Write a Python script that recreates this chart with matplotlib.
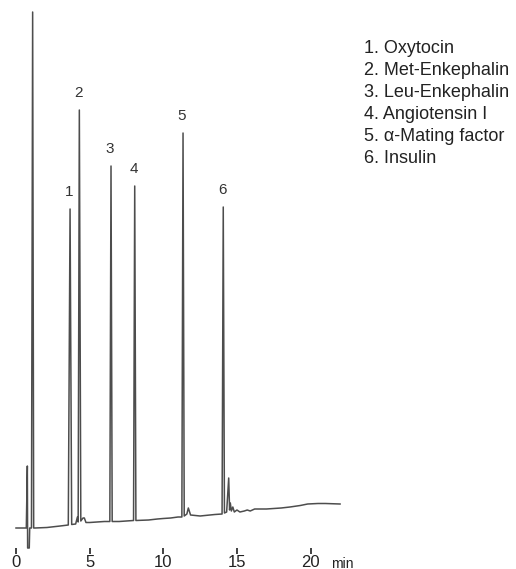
import matplotlib
matplotlib.use("Agg")
import matplotlib.pyplot as plt

plt.rcParams['font.family'] = ['Liberation Sans', 'DejaVu Sans']

# detector trace: retention time (min) and signal (arbitrary units)
time = [0.0, 0.70, 0.77, 0.79, 0.90, 0.93, 1.05, 1.13, 1.20, 1.30,
        2.10, 3.00, 3.55, 3.67, 3.78, 4.05, 4.17, 4.22, 4.30, 4.40,
        4.55, 4.64, 4.75, 5.00, 6.00, 6.37, 6.45, 6.53, 7.00, 7.98,
        8.06, 8.14, 9.00, 9.60, 10.00, 10.50, 11.00, 11.26, 11.34, 11.42,
        11.60, 11.70, 11.85, 12.50, 13.50, 13.99, 14.07, 14.15, 14.30, 14.44,
        14.50, 14.55, 14.62, 14.72, 14.82, 15.00, 15.20, 15.50, 15.70, 15.90,
        16.20, 17.00, 18.00, 18.60, 19.30, 19.80, 20.50, 21.00, 22.00]
signal = [0, 0, 62, -20, -20, 0, 0, 516, 0, 0,
          0.5, 2, 3, 319, 3.5, 4, 11, 6, 418, 7,
          10, 10, 5.5, 5.5, 6.5, 6.5, 362, 6.5, 6.5, 7.5,
          342, 7.5, 8, 9, 9.5, 10, 11, 11, 395, 12,
          14, 20, 13, 12, 13.5, 14, 321, 15, 16, 50,
          18, 25, 17, 21, 16, 18, 16, 17, 18, 17,
          19, 19, 20, 21, 22.5, 24, 24.5, 24.5, 24]

# numbered peaks
peak_time = [3.67, 4.30, 6.45, 8.06, 11.34, 14.07]
peak_height = [319, 418, 362, 342, 395, 321]
peak_names = ["Oxytocin", "Met-Enkephalin", "Leu-Enkephalin",
              "Angiotensin I", "α-Mating factor", "Insulin"]
time_ticks = [0, 5, 10, 15, 20]

fig = plt.figure(figsize=(5.16, 5.69), dpi=100)
ax = fig.add_axes([0, 23 / 569, 1, 546 / 569])
ax.plot(time, signal, color='#4d4d4d', lw=1.1, clip_on=False)

for i, (t, h) in enumerate(zip(peak_time, peak_height)):
    ax.annotate(str(i + 1), (t, h), xytext=(-1, 17), textcoords='offset pixels',
                ha='center', va='center', fontsize=11, color='#333333')

ax.set_xlim(-16 / 14.73, 500 / 14.73)
ax.set_ylim(-18, 528)
ax.set_xticks(time_ticks)
ax.set_yticks([])
ax.tick_params(axis='x', length=0, pad=6.5, labelsize=12, labelcolor='#222222')
for side in ax.spines.values():
    side.set_visible(False)

# short tick marks hanging under the trace, no axis line
ax.vlines(time_ticks, -0.003, -0.014, transform=ax.get_xaxis_transform(),
          colors='#333333', lw=1.3, clip_on=False, zorder=5)

ax.annotate('min', xy=(22.13, 0), xycoords=('data', 'axes fraction'),
            xytext=(0, -21.5), textcoords='offset pixels',
            ha='center', va='baseline', fontsize=10, color='#222222')

legend_text = "\n".join(f"{i + 1}. {name}" for i, name in enumerate(peak_names))
fig.text(364 / 516, 1 - 40 / 569, legend_text, ha='left', va='top',
         fontsize=13, color='#222222', linespacing=1.38)

fig.savefig("out.png", dpi=100)
